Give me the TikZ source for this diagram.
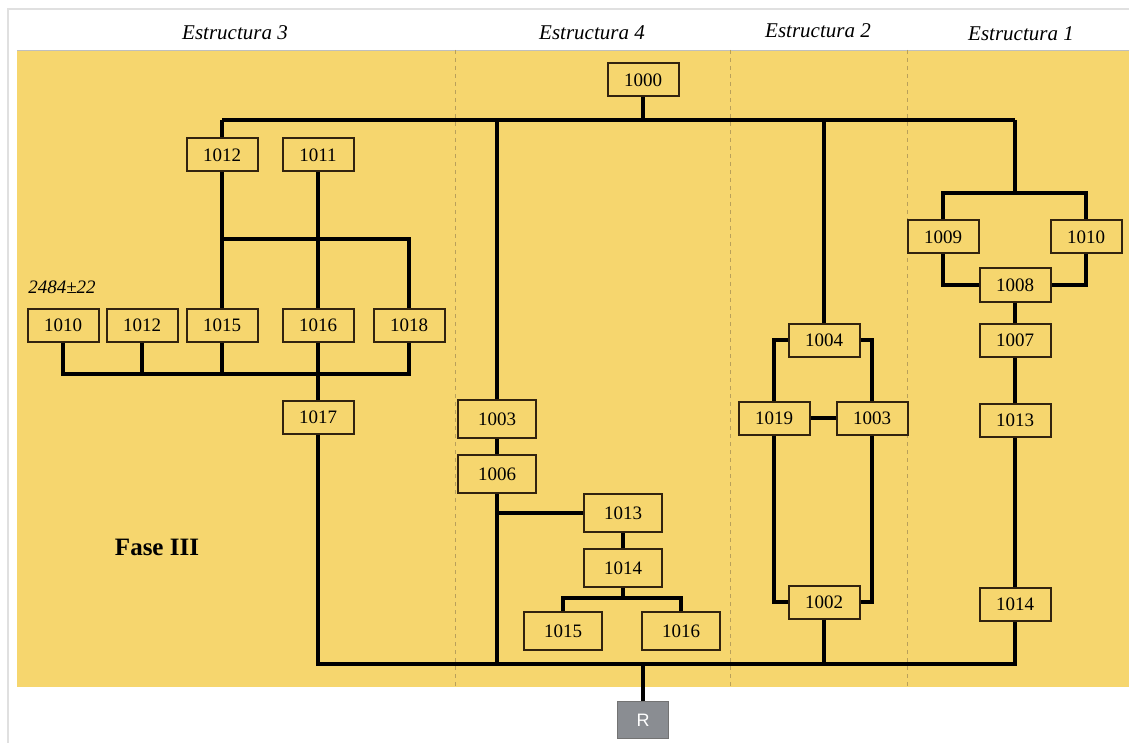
\documentclass[tikz,border=0pt]{standalone}
\usepackage{fontspec}
\setmainfont{Liberation Serif}
\setsansfont{Liberation Sans}
\definecolor{panel}{RGB}{246,214,110}
\definecolor{boxline}{RGB}{50,35,15}
\definecolor{dashc}{RGB}{185,160,90}
\definecolor{rgray}{RGB}{138,141,146}
\begin{document}
\begin{tikzpicture}[x=0.5pt,y=-0.5pt,
  box/.style={draw=boxline, fill=panel, line width=1pt, minimum width=35.5pt, minimum height=16.5pt, inner sep=0pt, font=\fontsize{9.5}{10}\selectfont},
  wbox/.style={box, minimum width=39pt, minimum height=19pt},
  conn/.style={line width=1.6pt, black},
  head/.style={font=\fontsize{10.5}{12}\selectfont\itshape},
  sep/.style={dashc, dashed, dash pattern=on 2pt off 2pt, line width=0.4pt}]
\useasboundingbox (0,0) rectangle (1129,743);
\fill[white] (0,0) rectangle (1129,743);
\draw[black!12, line width=1pt] (8,9) rectangle (1140,760);
\fill[panel] (17,50) rectangle (1129,687);
\draw[black!25, line width=0.4pt] (17,50) -- (1129,50);
\foreach \xx in {455,730,907} \draw[sep] (\xx,50) -- (\xx,687);
% headers
\node[head] (h3) at (235,33) {Estructura 3};
\node[head] (h4) at (592,33) {Estructura 4};
\node[head] (h2) at (818,31) {Estructura 2};
\node[head] (h1) at (1021,34) {Estructura 1};
\node[font=\fontsize{9.5}{11}\selectfont\itshape] (age) at (62,287) {2484±22};
\node[font=\fontsize{12.5}{14}\selectfont\bfseries] (fase) at (157,547) {Fase III};
% nodes
\node[box] (n1000) at (643,80) {1000};
\node[box] (a1012) at (222,155) {1012};
\node[box] (a1011) at (318,155) {1011};
\node[box] (b1010) at (63,325) {1010};
\node[box] (b1012) at (142,325) {1012};
\node[box] (b1015) at (222,325) {1015};
\node[box] (b1016) at (318,325) {1016};
\node[box] (b1018) at (409,325) {1018};
\node[box] (c1017) at (318,417) {1017};
\node[wbox] (d1003) at (497,419) {1003};
\node[wbox] (d1006) at (497,474) {1006};
\node[wbox] (d1013) at (623,513) {1013};
\node[wbox] (d1014) at (623,568) {1014};
\node[wbox] (d1015) at (563,631) {1015};
\node[wbox] (d1016) at (681,631) {1016};
\node[box] (f1004) at (824,340) {1004};
\node[box] (f1019) at (774,418) {1019};
\node[box] (f1003) at (872,418) {1003};
\node[box] (f1002) at (824,602) {1002};
\node[box] (g1009) at (943,237) {1009};
\node[box] (g1010) at (1086,237) {1010};
\node[box] (g1008) at (1015,285) {1008};
\node[box] (g1007) at (1015,340) {1007};
\node[box] (g1013) at (1015,420) {1013};
\node[box] (g1014) at (1015,604) {1014};
\node[draw=black!55, fill=rgray, line width=0.8pt, minimum width=25.5pt, minimum height=18.5pt, inner sep=0pt, text=white, font=\sffamily\fontsize{9}{10}\selectfont] (R) at (643,720) {R};
% coordinates
\coordinate (tbL) at (222,120);
\coordinate (tbR) at (1015,120);
\coordinate (m1) at (222,239);
\coordinate (rbus) at (318,374);
\coordinate (bb) at (643,664);
\coordinate (sb) at (623,598);
\coordinate (e1) at (1015,193);
% connectors
\draw[conn] (tbL) -- (tbR);
\draw[conn] (n1000.south) -- (n1000.south |- tbL);
\draw[conn] (tbL) -- (a1012.north);
\draw[conn] (a1012.south) -- (b1015.north);
\draw[conn] (a1011.south) -- (b1016.north);
\draw[conn] (m1) -| (b1018.north);
\draw[conn] (b1010.south) |- (rbus) -| (b1018.south);
\draw[conn] (b1012.south) -- (b1012.south |- rbus);
\draw[conn] (b1015.south) -- (b1015.south |- rbus);
\draw[conn] (b1016.south) -- (c1017.north);
\draw[conn] (c1017.south) |- (bb) -| (g1014.south);
\draw[conn] (bb) -- (R.north);
\draw[conn] (tbL -| d1003.north) -- (d1003.north);
\draw[conn] (d1003.south) -- (d1006.north);
\draw[conn] (d1006.south) -- (d1006.south |- bb);
\draw[conn] (d1006.south |- d1013.west) -- (d1013.west);
\draw[conn] (d1013.south) -- (d1014.north);
\draw[conn] (d1014.south) -- (sb);
\draw[conn] (d1015.north) |- (sb) -| (d1016.north);
\draw[conn] (tbL -| f1004.north) -- (f1004.north);
\draw[conn] (f1004.west) -| (f1019.north);
\draw[conn] (f1004.east) -| (f1003.north);
\draw[conn] (f1019.east) -- (f1003.west);
\draw[conn] (f1019.south) |- (f1002.west);
\draw[conn] (f1003.south) |- (f1002.east);
\draw[conn] (f1002.south) -- (f1002.south |- bb);
\draw[conn] (tbR) -- (e1);
\draw[conn] (g1009.north) |- (e1) -| (g1010.north);
\draw[conn] (g1009.south) |- (g1008.west);
\draw[conn] (g1010.south) |- (g1008.east);
\draw[conn] (g1008.south) -- (g1007.north);
\draw[conn] (g1007.south) -- (g1013.north);
\draw[conn] (g1013.south) -- (g1014.north);
\end{tikzpicture}
\end{document}
